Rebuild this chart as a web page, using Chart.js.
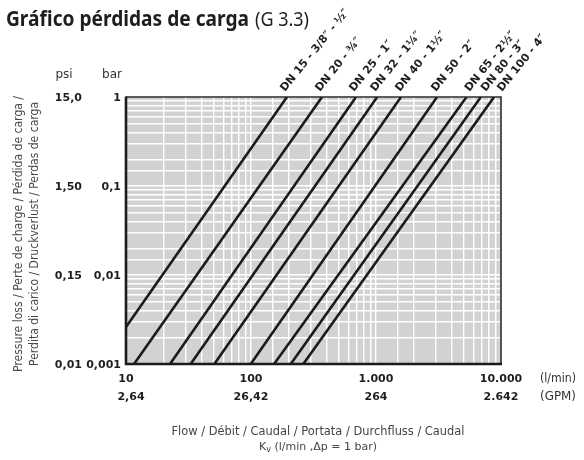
<!DOCTYPE html>
<html>
<head>
<meta charset="utf-8">
<script src="https://cdn.jsdelivr.net/npm/chart.js@4.4.1/dist/chart.umd.min.js"></script>
<style>
html,body{margin:0;padding:0;background:#fff;}
#wrap{width:584px;height:460px;position:relative;}
</style>
</head>
<body>
<div id="wrap"><canvas id="c" width="584" height="460"></canvas></div>
<script>
// ---- data ----
const seriesLabels = ['DN 15 - 3/8″ - ½″','DN 20 - ¾″','DN 25 - 1″','DN 32 - 1¼″','DN 40 - 1½″','DN 50 - 2″','DN 65 - 2½″','DN 80 - 3″','DN 100 - 4″'];
const startFlow = [10, 11.6, 22.5, 32.9, 50.9, 99.5, 153, 208, 262];      // l/min
const startLoss = [0.0026, 0.001, 0.001, 0.001, 0.001, 0.001, 0.001, 0.001, 0.001]; // bar
const endFlow   = [194, 370, 692, 1022, 1585, 3080, 5300, 6900, 8800];     // l/min
const endLoss   = [1, 1, 1, 1, 1, 1, 1, 1, 1];                              // bar

const flowTicks = [10, 100, 1000, 10000];
const flowTickLabels = ['10', '100', '1.000', '10.000'];
const gpmTickLabels = ['2,64', '26,42', '264', '2.642'];
const barTicks = [1, 0.1, 0.01, 0.001];
const barTickLabels = ['1', '0,1', '0,01', '0,001'];
const psiTickLabels = ['15,0', '1,50', '0,15', '0,01'];

// style-only label nudges (px) to avoid overlapping labels
const labelNudge = [0, 0, 0, 0, 1, 1, 5, 7, 10];

const datasets = seriesLabels.map((lab, i) => ({
  label: lab,
  data: [{x: startFlow[i], y: startLoss[i]}, {x: endFlow[i], y: endLoss[i]}],
  showLine: true,
  borderColor: '#1b1b1b',
  borderWidth: 2.6,
  pointRadius: 0,
  fill: false
}));

const textPlugin = {
  id: 'texts',
  beforeDraw(chart) {
    const {ctx, chartArea: a} = chart;
    ctx.save();
    ctx.fillStyle = '#d1d2d4';
    ctx.fillRect(a.left, a.top, a.right - a.left, a.bottom - a.top);
    ctx.restore();
  },
  afterDraw(chart) {
    const {ctx, chartArea: a, scales} = chart;
    const xs = scales.x, ys = scales.y;
    ctx.save();
    // frame top/right
    ctx.strokeStyle = '#2a2a2a';
    ctx.lineWidth = 1.6;
    ctx.beginPath();
    ctx.moveTo(a.left, a.top); ctx.lineTo(a.right, a.top); ctx.lineTo(a.right, a.bottom);
    ctx.stroke();
    ctx.strokeStyle = '#1b1b1b';
    ctx.lineWidth = 2.6;
    ctx.beginPath();
    ctx.moveTo(a.left, a.top - 0.5); ctx.lineTo(a.left, a.bottom); ctx.lineTo(a.right + 1, a.bottom);
    ctx.stroke();

    // title
    ctx.fillStyle = '#1e1e1e';
    ctx.textBaseline = 'alphabetic';
    ctx.textAlign = 'left';
    ctx.font = 'bold 21px "Noto Sans"';
    ctx.fillText('Gráfico pérdidas de carga', 6, 26, 243);
    ctx.font = '20px "Noto Sans"';
    ctx.fillText('(G 3.3)', 255, 26, 54);

    // y headers
    ctx.fillStyle = '#333';
    ctx.font = '12px "DejaVu Sans"';
    ctx.textAlign = 'center';
    ctx.textBaseline = 'middle';
    ctx.fillText('psi', 64, 75);
    ctx.fillText('bar', 112, 75);

    // y tick labels
    ctx.fillStyle = '#1e1e1e';
    ctx.font = 'bold 11px "DejaVu Sans"';
    ctx.textAlign = 'right';
    barTicks.forEach((v, i) => {
      const py = ys.getPixelForValue(v) + 1;
      ctx.fillText(barTickLabels[i], 121, py, 38);
      ctx.fillText(psiTickLabels[i], 82, py, 28);
    });

    // x tick labels
    ctx.textAlign = 'center';
    flowTicks.forEach((v, i) => {
      const px = xs.getPixelForValue(v);
      ctx.fillText(flowTickLabels[i], px, 379);
      ctx.fillText(gpmTickLabels[i], px + (i === 0 ? 5 : 0), 397);
    });
    ctx.fillStyle = '#333';
    ctx.font = '12px "DejaVu Sans"';
    ctx.textAlign = 'left';
    ctx.fillText('(l/min)', 540, 379, 36);
    ctx.fillText('(GPM)', 540, 397, 36);

    // x title
    ctx.fillStyle = '#444';
    ctx.textAlign = 'center';
    ctx.font = '12px "DejaVu Sans"';
    ctx.fillText('Flow / Débit / Caudal / Portata / Durchfluss / Caudal', 318, 432, 293);
    ctx.font = '11px "DejaVu Sans"';
    const l2a = 'K', l2b = 'v', l2c = ' (l/min ,Δp = 1 bar)';
    const wa = ctx.measureText(l2a).width;
    ctx.font = '8px "DejaVu Sans"';
    const wb = ctx.measureText(l2b).width;
    ctx.font = '11px "DejaVu Sans"';
    const wc = Math.min(ctx.measureText(l2c).width, 118);
    let sx = 318 - (wa + wb + wc) / 2;
    ctx.textAlign = 'left';
    ctx.fillText(l2a, sx, 447);
    ctx.font = '8px "DejaVu Sans"';
    ctx.fillText(l2b, sx + wa, 450);
    ctx.font = '11px "DejaVu Sans"';
    ctx.fillText(l2c, sx + wa + wb, 447, 118);

    // y title (rotated)
    ctx.save();
    ctx.translate(19, 234);
    ctx.rotate(-Math.PI / 2);
    ctx.textAlign = 'center';
    ctx.fillStyle = '#4a4a4a';
    ctx.font = '12px "DejaVu Sans"';
    ctx.fillText('Pressure loss / Perte de charge / Pérdida de carga /', 0, 0, 276);
    ctx.fillText('Perdita di carico / Druckverlust / Perdas de carga', 0, 16, 264);
    ctx.restore();

    // series labels
    ctx.fillStyle = '#1e1e1e';
    ctx.font = 'bold 11px "DejaVu Sans"';
    ctx.textAlign = 'left';
    ctx.textBaseline = 'alphabetic';
    seriesLabels.forEach((lab, i) => {
      const px = xs.getPixelForValue(endFlow[i]) + labelNudge[i];
      ctx.save();
      ctx.translate(px - 2, a.top - 5);
      ctx.rotate(-51 * Math.PI / 180);
      ctx.fillText(lab, 0, 0);
      ctx.restore();
    });
    ctx.restore();
  }
};

new Chart(document.getElementById('c'), {
  type: 'scatter',
  data: { datasets },
  options: {
    responsive: false,
    animation: false,
    devicePixelRatio: 1,
    layout: { padding: { left: 126, top: 97, right: 83, bottom: 96 } },
    plugins: { legend: { display: false }, tooltip: { enabled: false } },
    scales: {
      x: {
        type: 'logarithmic', min: 10, max: 10000,
        ticks: { display: false },
        grid: { color: '#ffffff', lineWidth: 1.4, drawTicks: false, tickLength: 0 },
        border: { display: false }
      },
      y: {
        type: 'logarithmic', min: 0.001, max: 1,
        ticks: { display: false },
        grid: { color: '#ffffff', lineWidth: 1.4, drawTicks: false, tickLength: 0 },
        border: { display: false }
      }
    }
  },
  plugins: [textPlugin]
});
</script>
</body>
</html>
